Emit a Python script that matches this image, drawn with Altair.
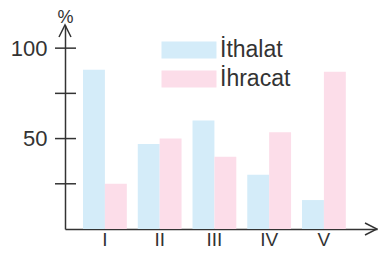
import altair as alt
import pandas as pd

categories = ["I", "II", "III", "IV", "V"]
series_names = ["İthalat", "İhracat"]
ithalat = [88, 47, 60, 30, 16]
ihracat = [25, 50, 40, 53.5, 87]
tick_values = [25, 50, 75, 100]
label_values = [50, 100]
colors = ["#d4ecf9", "#fcdde9"]

rows = []
for c, a, b in zip(categories, ithalat, ihracat):
    rows.append({"cat": c, "series": series_names[0], "value": a})
    rows.append({"cat": c, "series": series_names[1], "value": b})
df = pd.DataFrame(rows)
ticks_df = pd.DataFrame({"v": tick_values})

W, H = 312, 204
AX = "#333333"
FONT = "Liberation Sans"

yscale = alt.Scale(domain=[0, 112.8], nice=False, zero=True)

bars = alt.Chart(df).mark_bar().encode(
    x=alt.X("cat:N", sort=categories,
            scale=alt.Scale(paddingInner=0.2, paddingOuter=0.4493, align=0.366),
            axis=alt.Axis(title=None, labelAngle=0, labelFontSize=19, labelColor=AX,
                          labelFont=FONT, ticks=False, tickSize=0, labelPadding=16,
                          labelBaseline="alphabetic",
                          domainColor=AX, domainWidth=1.5, grid=False)),
    xOffset=alt.XOffset("series:N", sort=series_names),
    y=alt.Y("value:Q", scale=yscale,
            axis=alt.Axis(title="%", titleAngle=0, titleX=0, titleY=-17,
                          titleAlign="center", titleBaseline="top",
                          titleFontSize=18, titleFontWeight="normal", titleColor=AX,
                          titleFont=FONT,
                          values=label_values, ticks=False, tickSize=0,
                          labelPadding=18, labelFontSize=22, labelColor=AX,
                          labelFont=FONT, domainColor=AX, domainWidth=1.5, grid=False)),
    color=alt.Color("series:N", scale=alt.Scale(domain=series_names, range=colors),
                    legend=alt.Legend(title=None, orient="none", legendX=107, legendY=8,
                                      symbolType="M-1.6176,-0.5H1.6176V0.5H-1.6176Z",
                                      symbolSize=1156, symbolStrokeWidth=0,
                                      labelFontSize=23, labelFont=FONT, labelColor=AX,
                                      labelOffset=14, rowPadding=-2)),
)

tick_rules = alt.Chart(ticks_df).mark_rule(color=AX, strokeWidth=1.5).encode(
    y=alt.Y("v:Q", scale=yscale),
    x=alt.value(-10),
    x2=alt.value(11),
)

x_arrow = alt.Chart(ticks_df.head(1)).mark_point(
    shape="M-2,-1L0,0L-2,1", size=144, filled=False, color=AX, strokeWidth=1.5, opacity=1
).encode(x=alt.value(W), y=alt.value(H))

y_arrow = alt.Chart(ticks_df.head(1)).mark_point(
    shape="M-1,2L0,0L1,2", size=144, filled=False, color=AX, strokeWidth=1.5, opacity=1
).encode(x=alt.value(0), y=alt.value(0))

chart = alt.layer(bars, tick_rules, x_arrow, y_arrow).properties(
    width=W, height=H,
    autosize=alt.AutoSizeParams(type="none"),
    padding={"left": 57, "top": 17, "right": 1, "bottom": 20},
).configure_view(stroke=None)

chart.save("out.html", embed_options={"renderer": "svg", "actions": False})
